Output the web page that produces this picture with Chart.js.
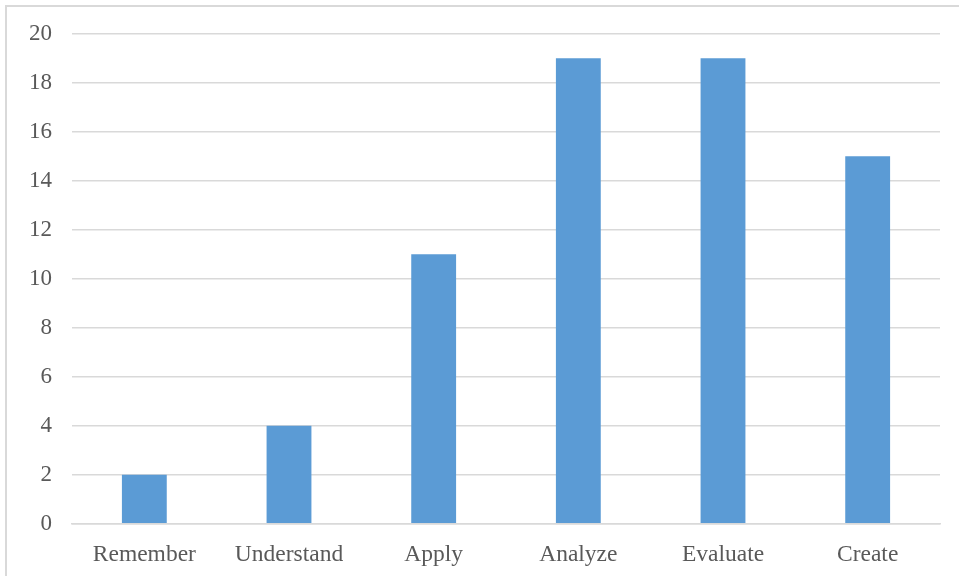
<!DOCTYPE html>
<html>
<head>
<meta charset="utf-8">
<script src="https://cdn.jsdelivr.net/npm/chart.js@4"></script>
<style>
  html, body { margin: 0; padding: 0; background: #fff; }
  #frame {
    position: absolute; left: 5px; top: 5px; width: 954px; height: 571px;
    border-left: 2px solid #d9d9d9; border-top: 2px solid #d9d9d9;
    box-sizing: border-box;
  }
  #wrap { position: absolute; left: 0; top: 0; width: 959px; height: 576px; }
</style>
</head>
<body>
<div id="frame"></div>
<div id="wrap"><canvas id="c" width="959" height="576"></canvas></div>
<script>
// Bloom's taxonomy levels and counts
const categories = ["Remember", "Understand", "Apply", "Analyze", "Evaluate", "Create"];
const counts = [2, 4, 11, 19, 19, 15];
const yTicks = [0, 2, 4, 6, 8, 10, 12, 14, 16, 18, 20];

const serif = "'Liberation Serif', 'Times New Roman', serif";

new Chart(document.getElementById("c"), {
  type: "bar",
  data: {
    labels: categories,
    datasets: [{
      data: counts,
      backgroundColor: "#5b9bd5",
      borderWidth: 0,
      categoryPercentage: 0.62,
      barPercentage: 0.5
    }]
  },
  options: {
    responsive: false,
    animation: false,
    layout: { padding: { left: 9, right: 19, top: 31, bottom: -2 } },
    plugins: { legend: { display: false }, tooltip: { enabled: false } },
    scales: {
      x: {
        grid: { display: false },
        border: { display: true, color: "#d9d9d9", width: 1.5 },
        ticks: { color: "#595959", font: { family: serif, size: 23.5 }, padding: 9 }
      },
      y: {
        min: 0, max: 20,
        afterBuildTicks: (axis) => { axis.ticks = yTicks.map(v => ({ value: v })); },
        grid: { color: "#d9d9d9", lineWidth: 1.5, drawTicks: false },
        border: { display: false },
        ticks: { color: "#595959", font: { family: serif, size: 23 }, padding: 20 }
      }
    }
  }
});
</script>
</body>
</html>
